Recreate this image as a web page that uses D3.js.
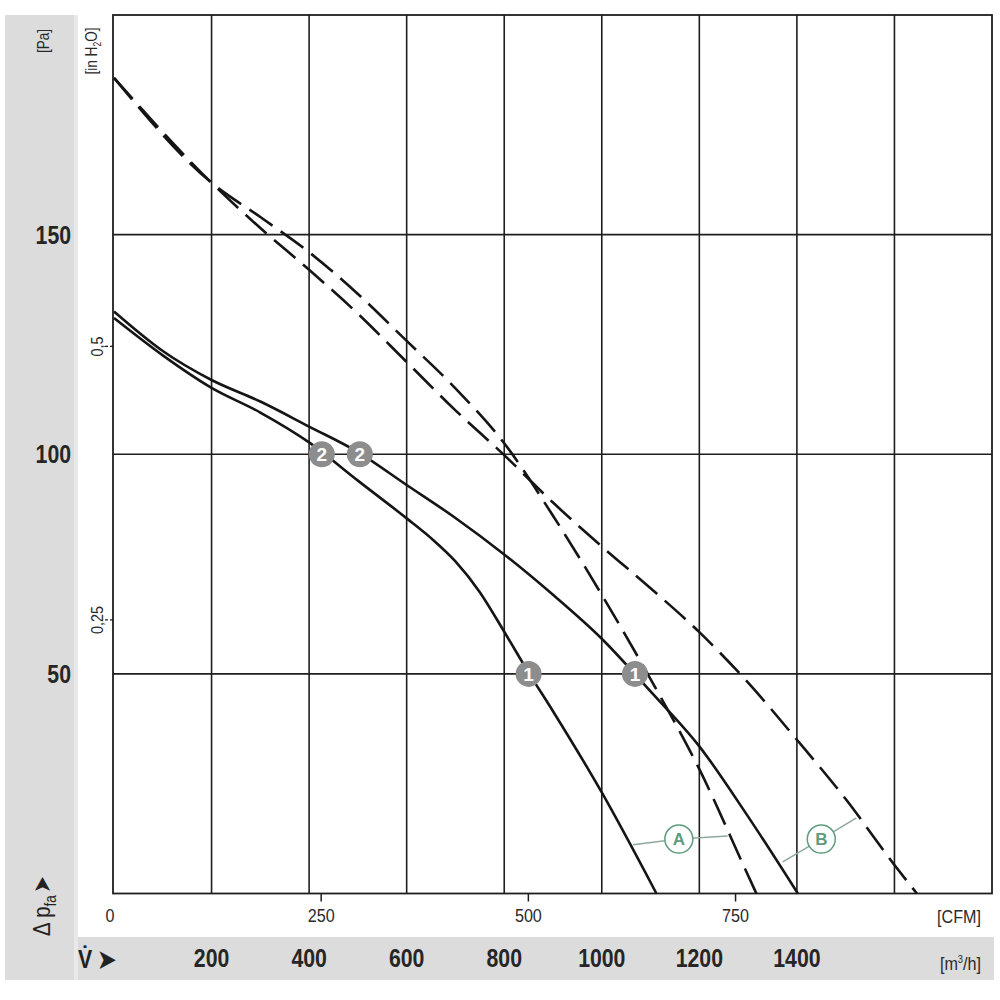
<!DOCTYPE html>
<html>
<head>
<meta charset="utf-8">
<script src="https://cdn.jsdelivr.net/npm/d3@7"></script>
<style>
  html, body { margin: 0; padding: 0; background: #fff; }
  svg { display: block; }
  text { font-family: 'Liberation Sans', Arial, sans-serif; fill: #2a2a2a; }
</style>
</head>
<body>
<div id="chart"></div>
<script>
// fan curves: volume flow [m3/h] vs pressure increase [Pa]
var solidAFlow = [0, 100, 200, 300, 400, 500, 600, 650, 700, 750, 800, 850, 900, 1000, 1112];
var solidAPa   = [131, 122.5, 115.1, 109.5, 102.7, 94, 85.4, 80.9, 75.6, 68.6, 59.6, 50.3, 41.5, 23, 0];

var solidBFlow = [0, 100, 200, 300, 400, 500, 600, 700, 800, 900, 1000, 1100, 1200, 1300, 1402];
var solidBPa   = [132.5, 123.5, 116.9, 112, 106.3, 100.5, 93, 85.5, 77.2, 68, 58, 46, 33.5, 17.5, 0];

var dashAFlow = [0, 200, 300, 400, 500, 600, 700, 800, 900, 1000, 1100, 1200, 1300, 1317];
var dashAPa   = [185.7, 161.8, 154, 146, 136.5, 125.8, 115, 102.5, 86, 68, 48.8, 28.3, 4.1, 0];

var dashBFlow = [0, 200, 300, 400, 500, 600, 700, 800, 900, 1000, 1100, 1200, 1300, 1400, 1500, 1600, 1646];
var dashBPa   = [185.7, 161.8, 151.5, 142, 132, 121, 110, 99.8, 89, 79, 69.5, 59.5, 48, 35, 21.5, 6.5, 0];

// operating points
var pointLabels = ['2', '2', '1', '1'];
var pointFlow   = [426, 504, 850, 1068];
var pointPa     = [100, 100, 50, 50];

// curve labels A / B with leader lines
var curveLabels = ['A', 'B'];
var labelFlow   = [1158, 1450];
var labelPa     = [12.4, 12.4];
var leaderLeft  = [[1064, 11.1], [1371, 7.2]];
var leaderRight = [[1258, 13.1], [1522, 17.2]];

// axis ticks
var flowGrid  = [200, 400, 600, 800, 1000, 1200, 1400, 1600];
var flowTicks = [200, 400, 600, 800, 1000, 1200, 1400];
var paTicks   = [50, 100, 150];
var cfmTicks  = [0, 250, 500, 750];
var inchTicks = [0.25, 0.5];
var inchTickLabels = ['0,25', '0,5'];

var width = 1000, height = 1000;
var svg = d3.select('#chart').append('svg')
    .attr('width', width)
    .attr('height', height);

var x = d3.scaleLinear().domain([0, 1800]).range([114, 992]);
var y = d3.scaleLinear().domain([0, 200]).range([893.5, 15]);
var cfmToM3h = 1.699;
var inchToPa = 249.09;
var narrow = 0.85;   // condensed look of the original lettering

// text helper: places text at (tx, ty), squeezed horizontally, optional rotation
function label(tx, ty, rot) {
    var t = 'translate(' + tx + ',' + ty + ')';
    if (rot) t += ' rotate(' + rot + ')';
    t += ' scale(' + narrow + ',1)';
    return svg.append('text').attr('transform', t);
}

// grey bands
svg.append('rect').attr('x', 5).attr('y', 15).attr('width', 69).attr('height', 965).attr('fill', '#dcdcdc');
svg.append('rect').attr('x', 74).attr('y', 15).attr('width', 4).attr('height', 965).attr('fill', '#e9e9e9');
svg.append('rect').attr('x', 78).attr('y', 937).attr('width', 916).attr('height', 43).attr('fill', '#dcdcdc');

var plot = svg.append('g');

// grid
plot.selectAll('.vgrid').data(flowGrid).enter().append('line')
    .attr('x1', function(d) { return x(d); })
    .attr('x2', function(d) { return x(d); })
    .attr('y1', y(200)).attr('y2', y(0))
    .attr('stroke', '#1e1e1e').attr('stroke-width', 1.6);
plot.selectAll('.hgrid').data(paTicks).enter().append('line')
    .attr('x1', x(0) - 1).attr('x2', x(1800))
    .attr('y1', function(d) { return y(d); })
    .attr('y2', function(d) { return y(d); })
    .attr('stroke', '#1e1e1e').attr('stroke-width', 1.6);

// frame
plot.append('rect')
    .attr('x', x(0) - 1).attr('y', y(200))
    .attr('width', x(1800) - x(0) + 1).attr('height', y(0) - y(200))
    .attr('fill', 'none').attr('stroke', '#1e1e1e').attr('stroke-width', 1.8);

// CFM ticks (secondary x)
plot.selectAll('.cfmtick').data(cfmTicks.slice(1)).enter().append('line')
    .attr('x1', function(d) { return x(d * cfmToM3h); })
    .attr('x2', function(d) { return x(d * cfmToM3h); })
    .attr('y1', y(0)).attr('y2', y(0) + 8)
    .attr('stroke', '#1e1e1e').attr('stroke-width', 1.5);

// in H2O ticks (secondary y)
plot.selectAll('.inchtick').data(inchTicks).enter().append('line')
    .attr('x1', x(0) - 9).attr('x2', x(0) - 1)
    .attr('y1', function(d) { return y(d * inchToPa); })
    .attr('y2', function(d) { return y(d * inchToPa); })
    .attr('stroke', '#1e1e1e').attr('stroke-width', 1.3)
    .attr('stroke-dasharray', '3,2');

// curves
var line = d3.line()
    .x(function(d) { return x(d[0]); })
    .y(function(d) { return y(d[1]); })
    .curve(d3.curveMonotoneX);

function zip(a, b) { return a.map(function(v, i) { return [v, b[i]]; }); }

var curves = [
    { pts: zip(solidAFlow, solidAPa), dash: null },
    { pts: zip(solidBFlow, solidBPa), dash: null },
    { pts: zip(dashAFlow, dashAPa), dash: '28,10' },
    { pts: zip(dashBFlow, dashBPa), dash: '28,10' }
];
plot.selectAll('.curve').data(curves).enter().append('path')
    .attr('d', function(d) { return line(d.pts); })
    .attr('fill', 'none')
    .attr('stroke', '#151515')
    .attr('stroke-width', 2.6)
    .attr('stroke-dasharray', function(d) { return d.dash; });

// leader lines and A/B circles
var green = '#5e9c7c';
curveLabels.forEach(function(lab, i) {
    var cx = x(labelFlow[i]), cy = y(labelPa[i]);
    plot.append('line')
        .attr('x1', x(leaderLeft[i][0])).attr('y1', y(leaderLeft[i][1]))
        .attr('x2', cx).attr('y2', cy)
        .attr('stroke', '#8fa99a').attr('stroke-width', 1.5);
    plot.append('line')
        .attr('x1', cx).attr('y1', cy)
        .attr('x2', x(leaderRight[i][0])).attr('y2', y(leaderRight[i][1]))
        .attr('stroke', '#8fa99a').attr('stroke-width', 1.5);
    plot.append('circle')
        .attr('cx', cx).attr('cy', cy).attr('r', 14)
        .attr('fill', '#fff').attr('stroke', green).attr('stroke-width', 1.5);
    plot.append('text')
        .attr('x', cx).attr('y', cy + 6)
        .attr('text-anchor', 'middle')
        .style('font-size', '17px').style('font-weight', 'bold').style('fill', green)
        .text(lab);
});

// operating point markers
pointLabels.forEach(function(lab, i) {
    var cx = x(pointFlow[i]), cy = y(pointPa[i]);
    plot.append('circle')
        .attr('cx', cx).attr('cy', cy).attr('r', 13)
        .attr('fill', '#8d8d8d');
    plot.append('text')
        .attr('x', cx).attr('y', cy + 7)
        .attr('text-anchor', 'middle')
        .style('font-size', '19px').style('font-weight', 'bold').style('fill', '#fff')
        .text(lab);
});

// Pa labels
paTicks.forEach(function(d) {
    label(71, y(d) + 9)
        .attr('text-anchor', 'end')
        .style('font-size', '25px').style('font-weight', 'bold').style('fill', '#262626')
        .text(d);
});

// m3/h labels
flowTicks.forEach(function(d) {
    label(x(d), 967)
        .attr('text-anchor', 'middle')
        .style('font-size', '25px').style('font-weight', 'bold').style('fill', '#262626')
        .text(d);
});

// CFM labels
cfmTicks.forEach(function(d) {
    label(d === 0 ? 110 : x(d * cfmToM3h), 922)
        .attr('text-anchor', 'middle')
        .style('font-size', '19px')
        .text(d);
});

// in H2O labels (rotated)
inchTicks.forEach(function(d, i) {
    label(103, y(d * inchToPa), -90)
        .attr('text-anchor', 'middle')
        .style('font-size', '17px')
        .text(inchTickLabels[i]);
});

// unit labels
label(981, 923).attr('text-anchor', 'end').style('font-size', '19px').text('[CFM]');
var m3 = label(981, 970).attr('text-anchor', 'end').style('font-size', '19px');
m3.append('tspan').text('[m');
m3.append('tspan').attr('dy', -7).style('font-size', '11px').text('3');
m3.append('tspan').attr('dy', 7).text('/h]');

label(49, 41, -90).attr('text-anchor', 'middle').style('font-size', '16px').text('[Pa]');
var inh = label(97, 51, -90).attr('text-anchor', 'middle').style('font-size', '16px');
inh.append('tspan').text('[in H');
inh.append('tspan').attr('dy', 4).style('font-size', '10px').text('2');
inh.append('tspan').attr('dy', -4).text('O]');

// axis symbols
var dp = label(50, 936, -90).style('font-size', '24px').style('fill', '#222');
dp.append('tspan').text('\u0394 p');
dp.append('tspan').attr('dy', 6).style('font-size', '16px').text('fa');
dp.append('tspan').attr('dy', -6).attr('dx', 3).text('\u27A4');

label(78, 968).style('font-size', '25px').style('font-weight', 'bold').style('fill', '#222')
    .text('V\u0307 \u27A4');
</script>
</body>
</html>
